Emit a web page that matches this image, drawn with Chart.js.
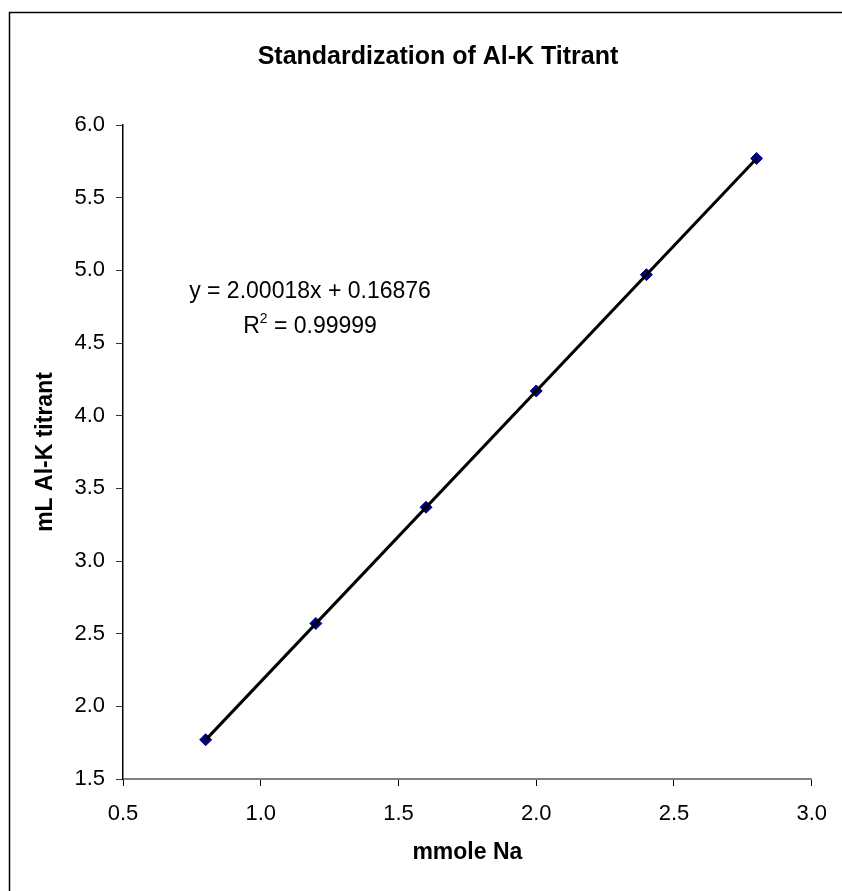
<!DOCTYPE html>
<html>
<head>
<meta charset="utf-8">
<title>Standardization of Al-K Titrant</title>
<script src="https://cdn.jsdelivr.net/npm/chart.js@4.4.1/dist/chart.umd.min.js"></script>
<style>
  html, body { margin: 0; padding: 0; background: #fff; }
  canvas { display: block; }
</style>
</head>
<body>
<canvas id="chart" width="842" height="891"></canvas>
<script>
// ---------- values ----------
const mmoleNa = [0.8, 1.2, 1.6, 2.0, 2.4, 2.8];
const mlTitrant = [1.77, 2.57, 3.37, 4.17, 4.97, 5.77];

// ends of the Excel trendline (first and last point)
const trendX = [0.8, 2.8];
const trendY = [1.769, 5.769];

const xTicks = [0.5, 1.0, 1.5, 2.0, 2.5, 3.0];
const yTicks = [1.5, 2.0, 2.5, 3.0, 3.5, 4.0, 4.5, 5.0, 5.5, 6.0];

const chartTitle = "Standardization of Al-K Titrant";
const fitEquation = "y = 2.00018x + 0.16876";
const fitR2 = "0.99999";

const FONT = "'Liberation Sans', Arial, sans-serif";

// --------- little plugin: frame, title and the trendline label ---------
const framePlugin = {
  id: "frame",
  afterDraw(chart) {
    const ctx = chart.ctx;
    ctx.save();
    ctx.strokeStyle = "#000";
    ctx.lineWidth = 1.5;
    ctx.beginPath();
    ctx.moveTo(9.5, chart.height);
    ctx.lineTo(9.5, 12.5);
    ctx.lineTo(chart.width, 12.5);
    ctx.stroke();

    // title
    ctx.fillStyle = "#000";
    ctx.font = "bold 25px " + FONT;
    ctx.textAlign = "center";
    ctx.textBaseline = "middle";
    ctx.fillText(chartTitle, 438, 57);

    // equation + R squared
    ctx.font = "23px " + FONT;
    ctx.fillText(fitEquation, 310, 292);
    const r = "R", eq = " = " + fitR2;
    const wR = ctx.measureText(r).width;
    const wEq = ctx.measureText(eq).width;
    ctx.font = "14px " + FONT;
    const wSup = ctx.measureText("2").width;
    let x = 310 - (wR + wSup + wEq) / 2;
    ctx.textAlign = "left";
    ctx.font = "23px " + FONT;
    ctx.fillText(r, x, 327);
    ctx.font = "14px " + FONT;
    ctx.fillText("2", x + wR, 319);
    ctx.font = "23px " + FONT;
    ctx.fillText(eq, x + wR + wSup, 327);
    ctx.restore();
  }
};

new Chart(document.getElementById("chart"), {
  type: "scatter",
  data: {
    datasets: [
      {
        label: "Linear (trend)",
        data: trendX.map((x, i) => ({ x: x, y: trendY[i] })),
        showLine: true,
        borderColor: "#000",
        borderWidth: 3,
        pointRadius: 0,
        order: 0,
      },
      {
        label: "mL Al-K titrant",
        data: mmoleNa.map((x, i) => ({ x: x, y: mlTitrant[i] })),
        pointStyle: "rectRot",
        pointRadius: 6,
        pointBackgroundColor: "#000080",
        pointBorderColor: "#000080",
        pointBorderWidth: 1,
        order: 1,
      },
    ],
  },
  options: {
    responsive: false,
    animation: false,
    layout: { padding: { top: 125, right: 28, left: 0, bottom: 0 } },
    plugins: {
      legend: { display: false },
      tooltip: { enabled: false },
      title: { display: false },
    },
    scales: {
      x: {
        type: "linear",
        min: 0.5,
        max: 3.0,
        afterBuildTicks: (s) => { s.ticks = xTicks.map((v) => ({ value: v })); },
        afterFit: (s) => { s.height = 112; },
        border: { display: true, color: "#808080", width: 2 },
        grid: { drawOnChartArea: false, drawTicks: true, tickLength: 7, color: "#000" },
        ticks: {
          color: "#000",
          padding: 15,
          font: { family: FONT, size: 22 },
          callback: (v) => Number(v).toFixed(1),
        },
        title: {
          display: true,
          text: "mmole Na",
          color: "#000",
          font: { family: FONT, size: 23, weight: "bold" },
          padding: { top: 0, bottom: 25 },
        },
      },
      y: {
        type: "linear",
        min: 1.5,
        max: 6.0,
        afterBuildTicks: (s) => { s.ticks = yTicks.map((v) => ({ value: v })); },
        afterFit: (s) => { s.width = 123; },
        border: { display: true, color: "#000", width: 1.5 },
        grid: { drawOnChartArea: false, drawTicks: true, tickLength: 7, color: "#333" },
        ticks: {
          color: "#000",
          padding: 11,
          font: { family: FONT, size: 22 },
          callback: (v) => Number(v).toFixed(1),
        },
        title: {
          display: true,
          text: "mL Al-K titrant",
          color: "#000",
          font: { family: FONT, size: 23, weight: "bold" },
          padding: { top: 32, bottom: 0 },
        },
      },
    },
  },
  plugins: [framePlugin],
});
</script>
</body>
</html>
